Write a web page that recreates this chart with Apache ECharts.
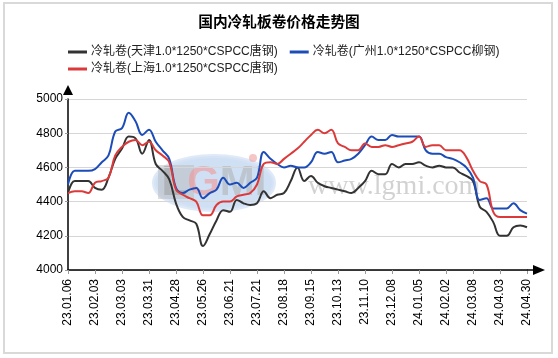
<!DOCTYPE html>
<html><head><meta charset="utf-8">
<script src="https://cdn.jsdelivr.net/npm/echarts@6/dist/echarts.min.js"></script>
<style>html,body{margin:0;padding:0;background:#fff}#c{width:558px;height:358px}</style>
</head><body><div id="c"></div>
<script>
const categories = ['23.01.06','23.01.13','23.01.20','23.01.28','23.02.03','23.02.10','23.02.17','23.02.24','23.03.03','23.03.10',
'23.03.17','23.03.24','23.03.31','23.04.07','23.04.14','23.04.21','23.04.28','23.05.05','23.05.12','23.05.19',
'23.05.26','23.06.02','23.06.09','23.06.16','23.06.21','23.06.30','23.07.07','23.07.14','23.07.21','23.07.28',
'23.08.04','23.08.11','23.08.18','23.08.25','23.09.01','23.09.08','23.09.15','23.09.22','23.09.28','23.10.06',
'23.10.13','23.10.20','23.10.27','23.11.03','23.11.10','23.11.17','23.11.24','23.12.01','23.12.08','23.12.15',
'23.12.22','23.12.29','24.01.05','24.01.12','24.01.19','24.01.26','24.02.02','24.02.08','24.02.23','24.03.01',
'24.03.08','24.03.15','24.03.22','24.03.29','24.04.03','24.04.12','24.04.19','24.04.26','24.04.30'];
const tianjin = [4450,4520,4520,4520,4480,4470,4540,4650,4710,4780,
4770,4680,4760,4620,4580,4530,4390,4310,4290,4270,
4140,4210,4290,4350,4340,4410,4390,4380,4390,4460,
4420,4440,4450,4520,4600,4520,4550,4510,4490,4480,
4470,4460,4450,4480,4520,4580,4560,4560,4620,4600,
4620,4620,4630,4610,4600,4610,4600,4600,4570,4550,
4520,4370,4340,4280,4200,4200,4250,4260,4250];
const guangzhou = [4500,4580,4580,4580,4590,4630,4670,4810,4830,4920,
4870,4790,4820,4750,4700,4650,4480,4450,4470,4480,
4420,4450,4470,4540,4500,4510,4480,4510,4540,4690,
4650,4620,4600,4610,4600,4600,4630,4690,4680,4690,
4630,4640,4650,4680,4730,4780,4760,4760,4790,4780,
4780,4780,4780,4700,4680,4680,4660,4650,4630,4600,
4540,4410,4420,4360,4360,4360,4390,4350,4330];
const shanghai = [4450,4460,4460,4450,4510,4520,4540,4670,4720,4750,
4760,4730,4750,4700,4670,4630,4470,4440,4420,4400,
4320,4320,4380,4400,4400,4430,4440,4450,4500,4620,
4630,4620,4650,4680,4710,4750,4790,4820,4800,4820,
4740,4720,4700,4700,4740,4720,4720,4730,4720,4730,
4740,4750,4780,4720,4730,4730,4700,4700,4700,4660,
4580,4520,4500,4340,4310,4310,4310,4310,4310];
const yMin = 4000, yMax = 5000, yInterval = 200;
const names = ['冷轧卷(天津1.0*1250*CSPCC唐钢)','冷轧卷(广州1.0*1250*CSPCC柳钢)','冷轧卷(上海1.0*1250*CSPCC唐钢)'];
const title = '国内冷轧板卷价格走势图';

const W = 558, H = 358;
const G = {left: 68, right: 31, top: 99, bottom: 88};
const FONT = '"Liberation Sans", Arial, "Noto Sans CJK SC", sans-serif';
const chart = echarts.init(document.getElementById('c'), null, {renderer: 'canvas'});
const axisY = H - G.bottom, axisRight = W - G.right;
chart.setOption({
  animation: false,
  backgroundColor: '#fff',
  color: ['#333333', '#1c4cb8', '#dc3a3a'],
  title: {text: title, left: 'center', top: 11, textStyle: {fontSize: 14.7, fontWeight: 'bold', color: '#000', fontFamily: FONT}},
  legend: [
    {data: [names[0], names[1]], left: 63, top: 41, icon: 'rect', itemWidth: 19, itemHeight: 3, itemGap: 12,
     textStyle: {fontSize: 12, color: '#222', fontFamily: FONT, padding: [0,0,0,-1]}},
    {data: [names[2]], left: 63, top: 58, icon: 'rect', itemWidth: 19, itemHeight: 3, itemGap: 12,
     textStyle: {fontSize: 12, color: '#222', fontFamily: FONT, padding: [0,0,0,-1]}}
  ],
  grid: {left: G.left, right: G.right, top: G.top, bottom: G.bottom, containLabel: false},
  xAxis: {
    type: 'category', data: categories, boundaryGap: false,
    axisLine: {lineStyle: {color: '#000', width: 1.5}, symbol: ['none', 'triangle'], symbolSize: [10, 12], symbolOffset: [0, 12]},
    axisTick: {interval: 3, length: 4, lineStyle: {color: '#999'}},
    axisLabel: {interval: 3, rotate: 90, fontSize: 12, color: '#000', margin: 9, fontFamily: FONT},
    splitLine: {show: false}
  },
  yAxis: {
    type: 'value', min: yMin, max: yMax, interval: yInterval,
    axisLine: {show: true, lineStyle: {color: '#000', width: 1.5}, symbol: ['none', 'triangle'], symbolSize: [10, 10], symbolOffset: [0, 9]},
    axisTick: {show: true, length: 3, lineStyle: {color: '#999'}},
    axisLabel: {fontSize: 12, color: '#000', margin: 5, fontFamily: FONT, formatter: function (v) { return String(v); }},
    splitLine: {lineStyle: {color: '#d6d6d6', width: 1}}
  },
  graphic: [
    {type: 'rect', z: -10, silent: true, shape: {x: 4, y: 3, width: 548, height: 350}, style: {fill: 'none', stroke: '#d9d9d9', lineWidth: 2}},
    {type: 'line', z: 5, silent: true, shape: {x1: axisRight, y1: axisY, x2: axisRight + 8, y2: axisY}, style: {stroke: '#000', lineWidth: 1.5}},
    {type: 'ellipse', z: -5, silent: true, shape: {cx: 214, cy: 183, rx: 60, ry: 27}, style: {fill: 'rgba(170,198,235,0.55)', stroke: 'rgba(215,228,245,0.8)', lineWidth: 4}},
    {type: 'rect', z: -4, silent: true, shape: {x: 158, y: 165, width: 36, height: 34}, style: {fill: 'rgba(180,180,180,0.45)'}},
    {type: 'text', z: -3, silent: true, x: 214, y: 183, style: {text: '{l|L}{g|G}{m|MI}', align: 'center', verticalAlign: 'middle',
      rich: {l: {fontSize: 42, fontWeight: 'bold', fill: 'rgba(160,160,160,0.55)', fontFamily: FONT},
             g: {fontSize: 42, fontWeight: 'bold', fill: 'rgba(240,150,150,0.6)', fontFamily: FONT},
             m: {fontSize: 42, fontWeight: 'bold', fill: 'rgba(170,170,170,0.5)', fontFamily: FONT}}}},
    {type: 'circle', z: -3, silent: true, shape: {cx: 253, cy: 158, r: 4}, style: {fill: 'rgba(240,160,160,0.6)'}},
    {type: 'text', z: -3, silent: true, x: 308, y: 187, style: {text: 'www.lgmi.com', verticalAlign: 'middle', font: '28px "Liberation Serif", serif', fill: 'rgba(180,180,180,0.6)'}}
  ],
  series: [
    {name: names[0], type: 'line', data: tianjin, smooth: 0.4, symbol: 'none', lineStyle: {width: 2}, z: 3},
    {name: names[1], type: 'line', data: guangzhou, smooth: 0.4, symbol: 'none', lineStyle: {width: 2}, z: 3},
    {name: names[2], type: 'line', data: shanghai, smooth: 0.4, symbol: 'none', lineStyle: {width: 2}, z: 3}
  ]
});
</script></body></html>
